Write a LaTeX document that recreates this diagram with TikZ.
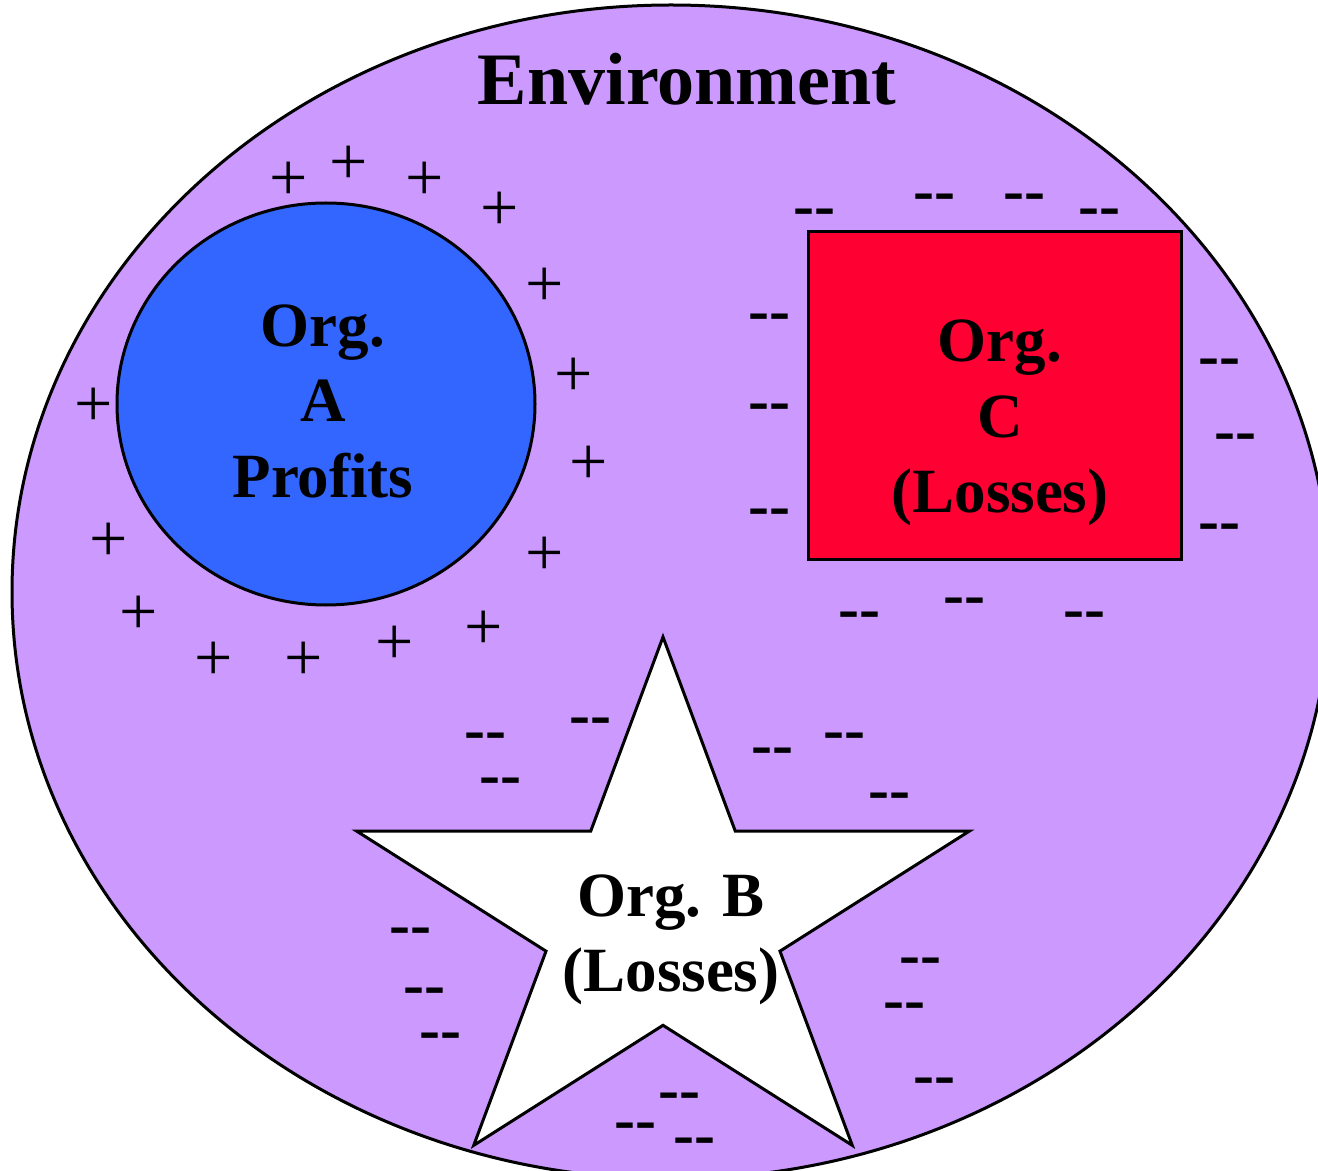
\documentclass[tikz,border=0pt]{standalone}
\usepackage{fontspec}
\setmainfont{Liberation Serif}
\newfontfamily\dashfont{Liberation Serif}
\usepackage{tikz}
\definecolor{envpurple}{HTML}{CC99FF}
\definecolor{orgblue}{HTML}{3366FF}
\definecolor{orgred}{HTML}{FF0033}

\begin{document}
\begin{tikzpicture}[x=0.5pt, y=-0.5pt, line width=1.5pt,
    every node/.style={font=\fontsize{31.5}{37.75}\selectfont\bfseries, align=center, inner sep=0pt},
    profit/.style={font=\fontsize{34}{40}\selectfont},
    loss/.style={font=\fontsize{31.5}{38}\selectfont\dashfont\bfseries}]
    \useasboundingbox (0,0) rectangle (1318,1171);
    \clip (0,0) rectangle (1318,1171);
    % environment and the three organisations
    \draw[fill=envpurple] (671,592) ellipse [x radius=659, y radius=587];
    \draw[fill=orgblue] (326,404) ellipse [x radius=209, y radius=201];
    \draw[fill=orgred] (808,232) rectangle (1181,560);
    \draw[fill=white, line join=miter, shift={(663,918)}]
        (270:322 and 281) -- (306:123 and 107.3) -- (342:322 and 281) -- (18:123 and 107.3)
        -- (54:322 and 281) -- (90:123 and 107.3) -- (126:322 and 281) -- (162:123 and 107.3)
        -- (198:322 and 281) -- (234:123 and 107.3) -- cycle;
    \node[anchor=base, font=\fontsize{37}{44}\selectfont\bfseries] (env) at (687,105) {Environment};
    \node (orgA) at (323,401) {Org.\\A\\Profits};
    \node (orgC) at (1000,423) {Org.\\C\\(Losses)};
    \node (orgB) at (671,940) {Org. B\\(Losses)};
    % signs round the organisations
    \foreach \px/\py [count=\i] in {289/181, 349/165, 425/181, 500/211, 545/287, 574/377, 589/465, 545/556,
        484/630, 395/645, 304/661, 214/661, 139/615, 109/542, 94/407}
      \node[profit] (plus\i) at (\px,\py) {+};
    \foreach \px/\py [count=\i] in {814/218, 934/203, 1024/203, 1099/218, 769/323, 769/413, 769/518,
        1219/368, 1235/443, 1219/533, 859/621, 964/607, 1084/621,
        485/742, 590/727, 500/787, 772/757, 844/742, 889/802, 410/937, 424/997, 440/1042,
        920/967, 904/1012, 934/1087, 679/1102, 635/1132, 694/1147}
      \node[loss] (minus\i) at (\px,\py) {--};
\end{tikzpicture}
\end{document}
